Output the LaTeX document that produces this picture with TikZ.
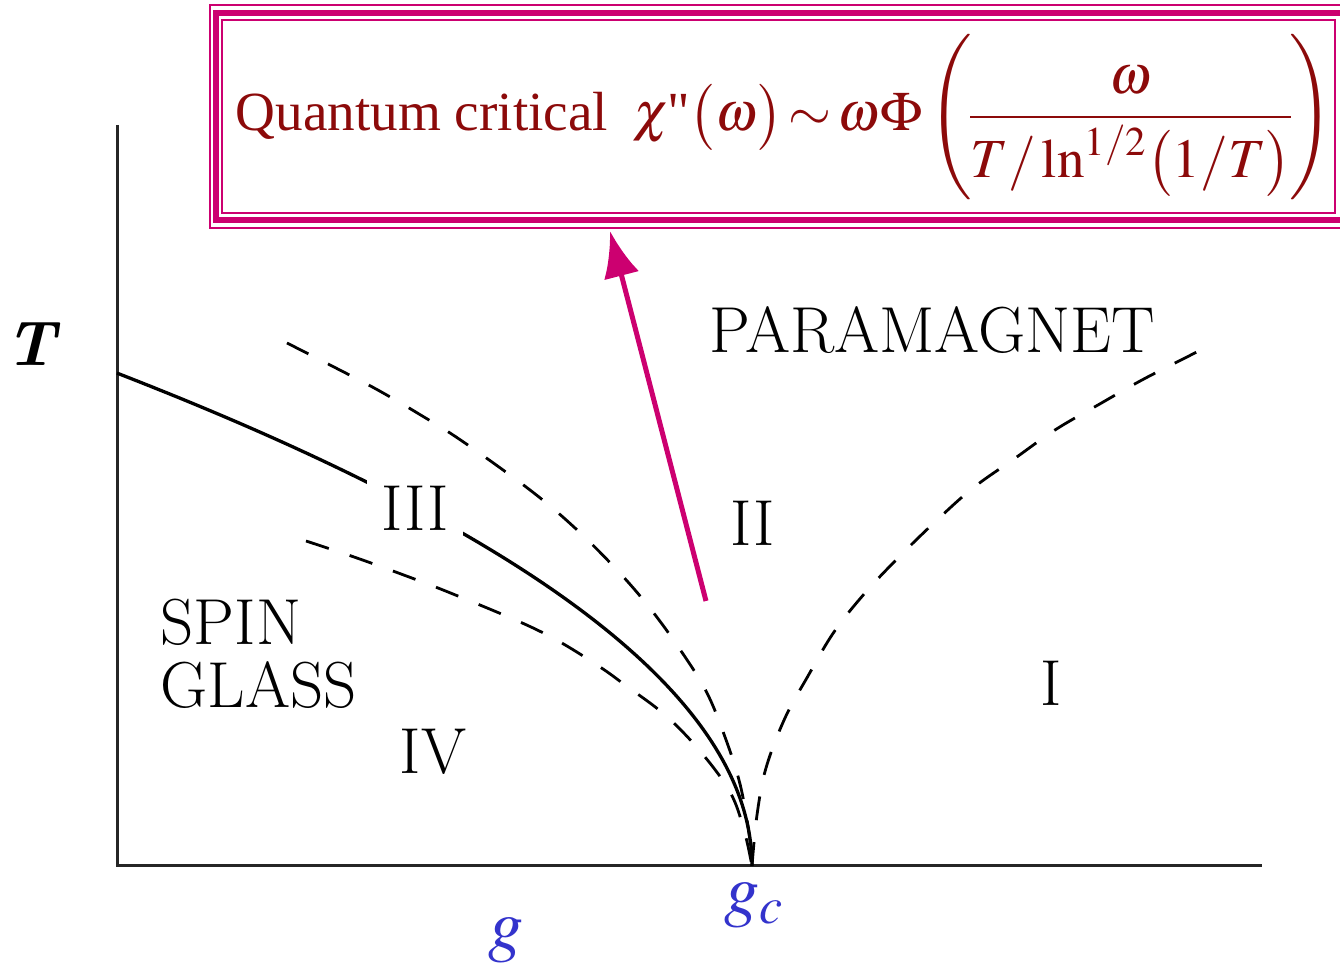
\documentclass[tikz,border=0pt]{standalone}
\usepackage{amsmath}
\usepackage{mathptmx}
\usepackage[no-math]{fontspec}
\renewcommand{\rmdefault}{lmr}
\newfontfamily\timesfont{Liberation Serif}
\usetikzlibrary{arrows.meta}
\definecolor{frame}{HTML}{CC0070}
\definecolor{formula}{HTML}{8C0A0A}
\definecolor{coupling}{HTML}{3333CC}
\tikzset{
  region/.style={font=\fontsize{18.5}{18}\selectfont,inner sep=0pt},
  qcbox/.style={font=\timesfont\fontsize{15.7}{19}\selectfont,text=formula,inner sep=0pt},
  coupling/.style={font=\fontsize{20}{24}\selectfont,text=coupling,inner sep=0pt},
  axis/.style={draw=black!85,line width=0.3mm},
  transition/.style={draw=black,line width=0.33mm},
  crossover/.style={draw=black,line width=0.28mm,dash pattern=on 2.4mm off 2.2mm},
  pointer/.style={-{Latex[length=4.6mm,width=3.6mm]},draw=frame,line width=0.5mm}}

\begin{document}
\begin{tikzpicture}[x=0.1mm,y=-0.1mm]
  \useasboundingbox (0,0) rectangle (1340,973);
  % axes
  \coordinate (ytop) at (117,125);
  \coordinate (origin) at (117,866);
  \coordinate (xend) at (1262,866);
  \coordinate (gc) at (752,866);
  \draw[axis] (ytop) -- (origin) -- (xend);
  % spin glass transition line, T ~ sqrt(gc-g)
  \draw[transition] plot[domain=0:25.2,samples=80] ({752-\x*\x},{866-19.56*\x});
  % crossover lines
  \draw[crossover] plot[smooth,tension=0.6] coordinates {(287,343) (332,366) (376,389) (419,414) (462,441) (530,490) (575,528) (617,570) (649,607) (679,648) (706,691) (725,737) (740,784) (749,833) (gc)};
  \draw[crossover] plot[smooth,tension=0.6] coordinates {(306,541) (354,557) (401,574) (448,592) (520,622) (560,642) (600,667) (625,685) (665,715) (700,751) (730,792) (744,830) (gc)};
  \draw[crossover] plot[smooth,tension=0.6] coordinates {(gc) (757,815) (766,768) (785,718) (808,676) (834,632) (865,593) (899,557) (936,521) (973,488) (1014,459) (1055,430) (1098,405) (1142,380) (1187,357) (1210,345)};
  % region labels
  \node[region] (para) at (932,330) {PARAMAGNET};
  \node[region,fill=white,inner sep=4pt] (rIII) at (415,508) {III};
  \node[region] (rII) at (753,523) {II};
  \node[region] (rI) at (1051,683) {I};
  \node[region] (rIV) at (433,752) {IV};
  \node[region,anchor=base west] (spin) at (160,645) {SPIN};
  \node[region,anchor=base west] (glass) at (160,708) {GLASS};
  % axis labels
  \node[font=\fontsize{18}{20}\selectfont,inner sep=0pt] (Tlabel) at (33,344) {\textbf{\textit{T}}};
  \node[coupling] (gclabel) at (754,905) {$g_c$};
  \node[coupling] (glabel) at (506,940) {$g$};
  % quantum critical box
  \draw[draw=frame,line width=0.2mm] (210,5) rectangle (1350,228);
  \draw[draw=frame,line width=0.6mm] (215.5,13.5) rectangle (1350,220);
  \draw[draw=frame,line width=0.25mm] (222,20) rectangle (1335,213);
  \node[qcbox,anchor=west] (qc) at (235,117) {Quantum critical\hspace{0.45em}$\chi$\kern-0.5pt"$\bigl(\omega\bigr)\mkern2mu{\sim}\mkern2mu\omega\Phi\left(\!\dfrac{\omega}{T/\ln^{1/2}\bigl(1/T\bigr)}\!\right)$};
  \coordinate (qctail) at (706,601);
  \coordinate (qctip) at (610,231);
  \draw[pointer] (qctail) -- (qctip);
\end{tikzpicture}
\end{document}
